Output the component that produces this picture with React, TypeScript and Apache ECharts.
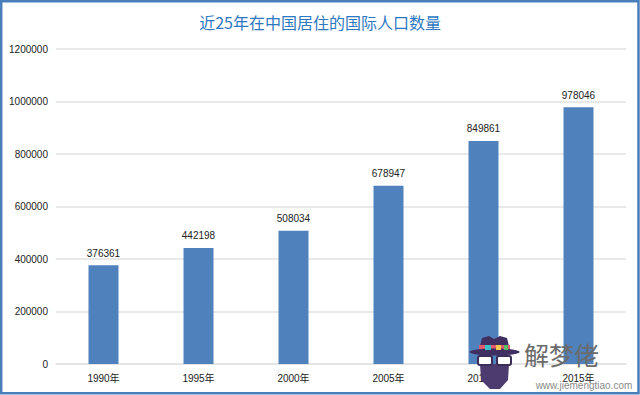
import React, { useEffect, useRef } from "react";
import * as echarts from "echarts";

const titleText = "近25年在中国居住的国际人口数量";
const categories = ["1990年", "1995年", "2000年", "2005年", "2010年", "2015年"];
const values = [376361, 442198, 508034, 678947, 849861, 978046];
const yMin = 0;
const yMax = 1200000;
const yStep = 200000;

export default function App() {
  const ref = useRef<HTMLDivElement>(null);
  useEffect(() => {
    if (!ref.current) return;
    const chart = echarts.init(ref.current, undefined, { renderer: "svg" });
    const numFont = "'Liberation Sans', Arial, sans-serif";
    const Z = 100;
    chart.setOption({
      animation: false,
      backgroundColor: "#ffffff",
      title: {
        text: titleText,
        left: "center",
        top: 9,
        textStyle: {
          fontSize: 16,
          fontWeight: "normal",
          color: "#2e78c2",
          fontFamily: "'Noto Sans CJK SC', sans-serif",
        },
      },
      grid: { left: 56, right: 14, top: 49, bottom: 31, containLabel: false },
      xAxis: {
        type: "category",
        data: categories,
        axisLine: { show: true, lineStyle: { color: "#e2e2e2", width: 1.5 } },
        axisTick: { show: false },
        axisLabel: {
          fontSize: 10,
          color: "#222",
          margin: 9,
          fontFamily: "'Liberation Sans', 'Noto Sans CJK SC', sans-serif",
        },
      },
      yAxis: {
        type: "value",
        min: yMin,
        max: yMax,
        interval: yStep,
        axisLine: { show: false },
        axisTick: { show: false },
        splitLine: { lineStyle: { color: "#e2e2e2", width: 1.5 } },
        axisLabel: {
          fontSize: 10,
          color: "#222",
          margin: 8,
          fontFamily: numFont,
          formatter: (v: number) => String(v),
        },
      },
      series: [
        {
          type: "bar",
          data: values,
          barWidth: 30,
          itemStyle: { color: "#4f81bd" },
          label: {
            show: true,
            position: "top",
            distance: 7,
            fontSize: 10,
            color: "#222",
            fontFamily: numFont,
          },
        },
      ],
      graphic: [
        {
          type: "rect",
          shape: { x: 1.2, y: 1.2, width: 637.3, height: 392 },
          style: { fill: "none", stroke: "#4a7ebb", lineWidth: 2.5 },
          z: Z,
        },
        {
          type: "polygon",
          z: Z,
          shape: { points: [[480, 364], [509, 364], [508, 380], [500, 389], [490, 389], [481, 380]] },
          style: { fill: "#4b3b6e" },
        },
        { type: "rect", z: Z + 1, shape: { x: 478, y: 356, width: 14, height: 9, r: 2 }, style: { fill: "#ffffff", stroke: "#3b2d58", lineWidth: 2 } },
        { type: "rect", z: Z + 1, shape: { x: 497, y: 356, width: 14, height: 9, r: 2 }, style: { fill: "#ffffff", stroke: "#3b2d58", lineWidth: 2 } },
        {
          type: "polygon",
          z: Z,
          shape: { points: [[479, 350], [482, 338], [489, 336], [494, 339], [500, 336], [507, 338], [510, 350]] },
          style: { fill: "#3f3061" },
        },
        { type: "rect", z: Z + 1, shape: { x: 479, y: 345, width: 31, height: 5 }, style: { fill: "#e25a6e" } },
        { type: "rect", z: Z + 2, shape: { x: 485, y: 345, width: 6, height: 5 }, style: { fill: "#3cc0c8" } },
        { type: "rect", z: Z + 2, shape: { x: 496, y: 345, width: 5, height: 5 }, style: { fill: "#f2c94c" } },
        { type: "rect", z: Z + 2, shape: { x: 504, y: 345, width: 4, height: 5 }, style: { fill: "#5bbf6a" } },
        { type: "ellipse", z: Z + 1, shape: { cx: 494.5, cy: 352, rx: 25, ry: 3.5 }, style: { fill: "#3f3061" } },
        {
          type: "text",
          z: Z,
          x: 524,
          y: 354,
          style: {
            text: "解梦佬",
            fontSize: 25,
            fill: "#6b6b6b",
            fontFamily: "'Noto Sans CJK SC', sans-serif",
            verticalAlign: "middle",
            align: "left",
          },
        },
        {
          type: "text",
          z: Z,
          x: 584,
          y: 385,
          style: {
            text: "www.jiemengtiao.com",
            fontSize: 10,
            fill: "#8a8a8a",
            fontFamily: numFont,
            verticalAlign: "middle",
            align: "center",
          },
        },
      ],
    });
    return () => chart.dispose();
  }, []);
  return (
    <div
      ref={ref}
      style={{ position: "fixed", left: 0, top: 0, width: 640, height: 395 }}
    />
  );
}
